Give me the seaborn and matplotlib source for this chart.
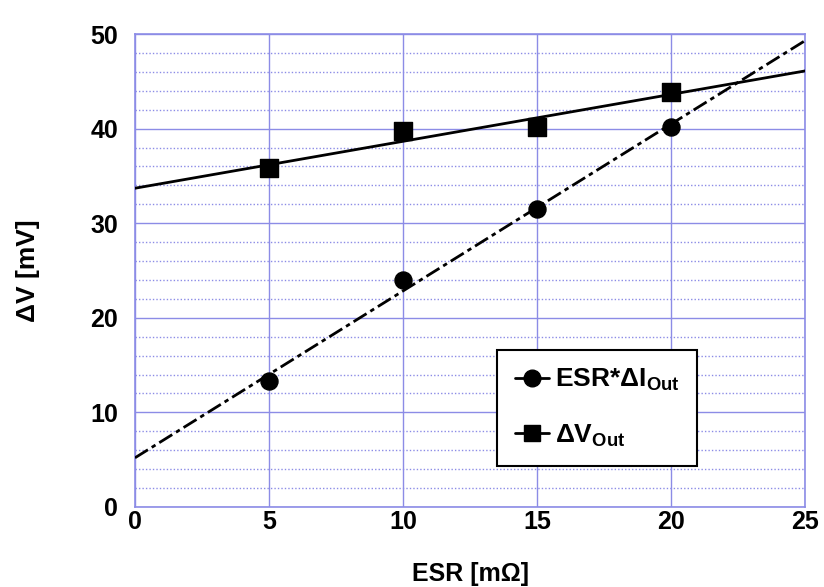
import numpy as np
import pandas as pd
import matplotlib
matplotlib.use("Agg")
import matplotlib.pyplot as plt
from matplotlib.lines import Line2D
from matplotlib.ticker import MultipleLocator
import seaborn as sns

# ── DATA ────────────────────────────────────────────────
esr_mohm = [5, 10, 15, 20]
esr_x_di = [13.3, 24.0, 31.5, 40.2]      # ESR*ΔI_Out  [mV]
dv_out = [35.8, 39.7, 40.2, 43.9]        # ΔV_Out      [mV]
x_ticks = [0, 5, 10, 15, 20, 25]
y_ticks = [0, 10, 20, 30, 40, 50]
# ────────────────────────────────────────────────────────

GRID_COL = "#8c8ce6"

sns.set_style("white")
plt.rcParams.update({
    "font.family": ["Liberation Sans", "DejaVu Sans"],
    "font.weight": "bold",
    "text.color": "black",
    "axes.labelcolor": "black",
    "xtick.color": "black",
    "ytick.color": "black",
    "mathtext.fontset": "custom",
    "mathtext.rm": "Liberation Sans:bold",
    "mathtext.it": "Liberation Sans:bold",
    "mathtext.bf": "Liberation Sans:bold",
})

df = pd.DataFrame({"esr": esr_mohm, "esr_di": esr_x_di, "dv": dv_out})

fig = plt.figure(figsize=(8.24, 5.87), dpi=100)
ax = fig.add_axes([0.1638, 0.1363, 0.977 - 0.1638, 0.942 - 0.1363])

# grid first so data sits on top
ax.yaxis.set_minor_locator(MultipleLocator(2))
ax.grid(True, which="major", color=GRID_COL, linewidth=1.0, linestyle="-", zorder=0)
ax.grid(True, which="minor", axis="y", color=GRID_COL, linewidth=1.0,
        linestyle=(0, (1, 1.5)), zorder=0)
ax.set_axisbelow(True)
ax.set_xlim(0, 25)
ax.set_ylim(0, 50)

sns.regplot(data=df, x="esr", y="dv", ax=ax, ci=None, truncate=False,
            marker="s", color="black",
            scatter_kws={"s": 150, "zorder": 4, "alpha": 1},
            line_kws={"linewidth": 2.0, "zorder": 3})
sns.regplot(data=df, x="esr", y="esr_di", ax=ax, ci=None, truncate=False,
            marker="o", color="black",
            scatter_kws={"s": 150, "zorder": 4, "alpha": 1},
            line_kws={"linewidth": 2.0, "zorder": 3,
                      "dashes": (5.5, 1.6, 1.6, 1.6)})
ax.set_xlim(0, 25)
ax.set_ylim(0, 50)

ax.set_xticks(x_ticks)
ax.set_yticks(y_ticks)
ax.tick_params(axis="both", which="both", length=0, labelsize=18,
               labelcolor="black")
ax.tick_params(axis="y", pad=12)
ax.tick_params(axis="x", pad=2)
for lab in ax.get_xticklabels() + ax.get_yticklabels():
    lab.set_fontweight("bold")

for sp in ax.spines.values():
    sp.set_color(GRID_COL)
    sp.set_linewidth(1.2)

ax.set_xlabel("ESR [mΩ]", fontsize=18, fontweight="bold", labelpad=20)
ax.set_ylabel("ΔV [mV]", fontsize=19, fontweight="bold", labelpad=36)

handles = [
    Line2D([], [], color="black", marker="o", markersize=12, linewidth=2.0),
    Line2D([], [], color="black", marker="s", markersize=12, linewidth=2.0),
]
labels = ["ESR*ΔI$_{\\mathrm{Out}}$", "ΔV$_{\\mathrm{Out}}$"]
leg = ax.legend(handles, labels, loc="lower right",
                bbox_to_anchor=(0.839, 0.087), fontsize=19, frameon=True,
                fancybox=False, edgecolor="black", framealpha=1,
                handlelength=1.3, handletextpad=0.25, labelspacing=1.1,
                borderpad=0.65, borderaxespad=0)
leg.get_frame().set_linewidth(1.5)

fig.savefig("out.png", dpi=100, facecolor="white")
